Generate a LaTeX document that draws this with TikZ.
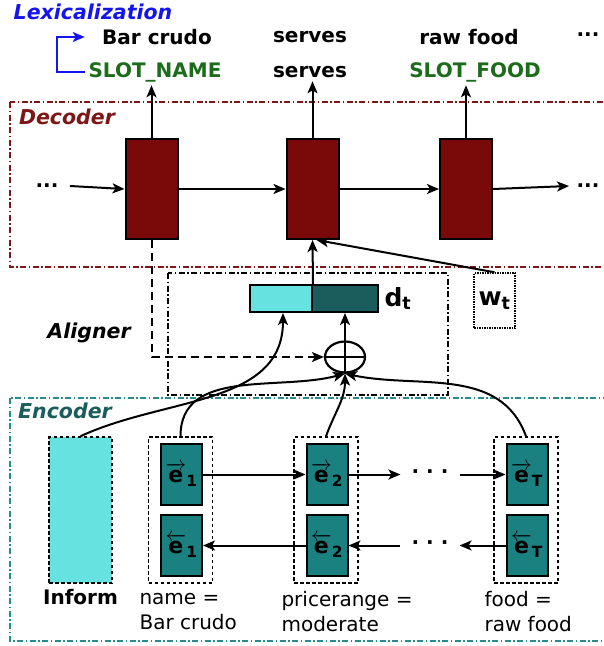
\documentclass[tikz,border=0pt]{standalone}
\usepackage{fontspec}
\setmainfont{DejaVu Sans}
\usepackage{amsmath}
\usepackage{xcolor}
\usetikzlibrary{arrows.meta, positioning, shapes.geometric}
\definecolor{decred}{RGB}{122,10,10}
\definecolor{decframe}{RGB}{125,22,22}
\definecolor{encteal}{RGB}{27,128,128}
\definecolor{encframe}{RGB}{40,140,140}
\definecolor{enclabel}{RGB}{27,92,92}
\definecolor{ctxcyan}{RGB}{102,227,224}
\definecolor{ctxdark}{RGB}{27,92,92}
\definecolor{slotgreen}{RGB}{28,108,28}
\definecolor{lexblue}{RGB}{20,20,240}
\newcommand{\fwdvec}[1]{$\overrightarrow{\textbf{e}}_{\textbf{#1}}$}
\newcommand{\bwdvec}[1]{$\overleftarrow{\textbf{e}}_{\textbf{#1}}$}
\tikzset{%
	dec cell/.style={
		draw=black,
		line width=2pt,
		fill=decred,
		minimum width=52pt,
		minimum height=100pt,
		inner sep=0pt
	},
	enc cell/.style={
		draw=black,
		line width=2pt,
		fill=encteal,
		minimum width=41pt,
		minimum height=61pt,
		inner sep=0pt,
		font=\bfseries\fontsize{22}{22}\selectfont
	},
	group box/.style={
		draw,
		line width=1.5pt,
		dash pattern=on 3.5pt off 2.5pt,
		minimum width=64pt,
		minimum height=146pt
	},
	frame/.style={
		line width=1.4pt,
		dash pattern=on 6pt off 2.5pt on 1.5pt off 2.5pt
	},
	flow/.style={line width=2pt, -{Stealth[length=12pt, width=10pt, inset=3pt]}},
	words/.style={font=\bfseries\fontsize{20}{22}\selectfont},
	tag/.style={font=\bfseries\itshape\fontsize{20.5}{22}\selectfont},
	slot/.style={font=\fontsize{20}{25}\selectfont, align=left, anchor=west},
}

\begin{document}
\begin{tikzpicture}[x=1pt, y=1pt]
	\useasboundingbox (0,0) rectangle (604,-646);
	
	% Frames
	\draw[frame, decframe] (10,-102) rectangle (610,-267);
	\draw[frame, black] (168,-273) rectangle (448,-395);
	\draw[frame, encframe] (10,-398) rectangle (610,-641);
	\node[tag, text=lexblue] (lexlabel) at (93,-12) {Lexicalization};
	\node[tag, text=decframe] (declabel) at (67,-117) {Decoder};
	\node[tag, text=enclabel] (enclabel) at (65,-411) {Encoder};
	\node[tag] (alilabel) at (89,-333) {Aligner};
	
	% Output words
	\node[words] (lex1) at (157,-37) {Bar crudo};
	\node[words] (lex2) at (310,-37) {serves};
	\node[words] (lex3) at (469,-37) {raw food};
	\node[words] (lexdots) at (588,-35) {...};
	\node[words, text=slotgreen] (slot1) at (155,-72) {SLOT\_NAME};
	\node[words] (slot2) at (310,-72) {serves};
	\node[words, text=slotgreen] (slot3) at (475,-72) {SLOT\_FOOD};
	\draw[flow, lexblue, line width=1.6pt] (slot1.west) -- ++(-28,0) |- ([xshift=-14pt]lex1.west);
	
	% Decoder
	\node[dec cell] (dec1) at (151.5,-189) {};
	\node[dec cell] (dec2) at (312.5,-189) {};
	\node[dec cell] (dec3) at (466,-189) {};
	\node[words] (ldots) at (47,-186) {...};
	\node[words] (rdots) at (588,-186) {...};
	\draw[flow] ([xshift=8pt]ldots.east) -- (dec1.west);
	\draw[flow] (dec1.east) -- (dec2.west);
	\draw[flow] (dec2.east) -- (dec3.west);
	\draw[flow] (dec3.east) -- ([xshift=-4pt]rdots.west);
	\draw[flow] (dec1.north) -- (dec1.north |- slot1.south);
	\draw[flow] (dec2.north) -- (dec2.north |- slot2.south);
	\draw[flow] (dec3.north) -- (dec3.north |- slot3.south);
	
	% Aligner
	\node[draw, line width=2pt, fill=ctxcyan, minimum width=62pt, minimum height=27pt, inner sep=0pt] (ctxa) at (281,-298.5) {};
	\node[draw, line width=2pt, fill=ctxdark, minimum width=66pt, minimum height=27pt, inner sep=0pt] (ctxb) at (345,-298.5) {};
	\node[font=\bfseries\fontsize{25}{25}\selectfont, right=2pt of ctxb] (dt) {d\textsubscript{t}};
	\node[draw, line width=1.5pt, densely dotted, minimum width=41pt, minimum height=55pt, font=\bfseries\fontsize{25}{25}\selectfont] (wt) at (494.5,-300.5) {w\textsubscript{t}};
	\node[draw, ellipse, line width=2.2pt, minimum width=40pt, minimum height=31pt, inner sep=0pt] (sum) at (345,-357) {};
	\draw[line width=2pt] (sum.north) -- (sum.south) (sum.west) -- (sum.east);
	\draw[flow] (sum.north) -- (ctxb.south);
	\draw[flow] (ctxa.north east) -- (dec2.south);
	\draw[flow] (wt.north) -- ([xshift=4pt]dec2.south);
	\draw[flow, dash pattern=on 8pt off 5pt] (dec1.south) |- (sum.west);
	
	% Encoder
	\node[draw, line width=1.5pt, dash pattern=on 3.5pt off 2.5pt, fill=ctxcyan, minimum width=63pt, minimum height=146pt] (inform) at (80.5,-510) {};
	\node[words, below=2pt of inform] (informlabel) {Inform};
	\node[group box] (g1) at (180.5,-510) {};
	\node[group box] (g2) at (326,-510) {};
	\node[group box] (gT) at (526,-510) {};
	\node[enc cell] (f1) at (181.5,-474.5) {\fwdvec{1}};
	\node[enc cell] (b1) at (181.5,-545.5) {\bwdvec{1}};
	\node[enc cell] (f2) at (327,-474.5) {\fwdvec{2}};
	\node[enc cell] (b2) at (327,-545.5) {\bwdvec{2}};
	\node[enc cell] (fT) at (527,-474.5) {\fwdvec{T}};
	\node[enc cell] (bT) at (527,-545.5) {\bwdvec{T}};
	\node[words, inner sep=11pt] (fdots) at (430,-474.5) {· · ·};
	\node[words, inner sep=11pt] (bdots) at (430,-545.5) {· · ·};
	\draw[flow] (f1.east) -- (f2.west);
	\draw[flow] (f2.east) -- (fdots.west);
	\draw[flow] (fdots.east) -- (fT.west);
	\draw[flow] (bT.west) -- (bdots.east);
	\draw[flow] (bdots.west) -- (b2.east);
	\draw[flow] (b2.west) -- (b1.east);
	\node[slot] (slotname) at (136,-612) {name =\\Bar crudo};
	\node[slot] (slotprice) at (278,-612) {pricerange =\\moderate};
	\node[slot] (slotfood) at (481,-612) {food =\\raw food};
	
	% Attention inputs
	\draw[flow] (inform.north) to[out=25, in=-90] ([xshift=2pt]ctxa.south);
	\draw[flow] (g1.north) to[out=90, in=195] (sum.south);
	\draw[flow] (g2.north) to[out=70, in=-90] (sum.south);
	\draw[flow] (gT.north) to[out=110, in=-12] (sum.south);
	
\end{tikzpicture}
\end{document}
